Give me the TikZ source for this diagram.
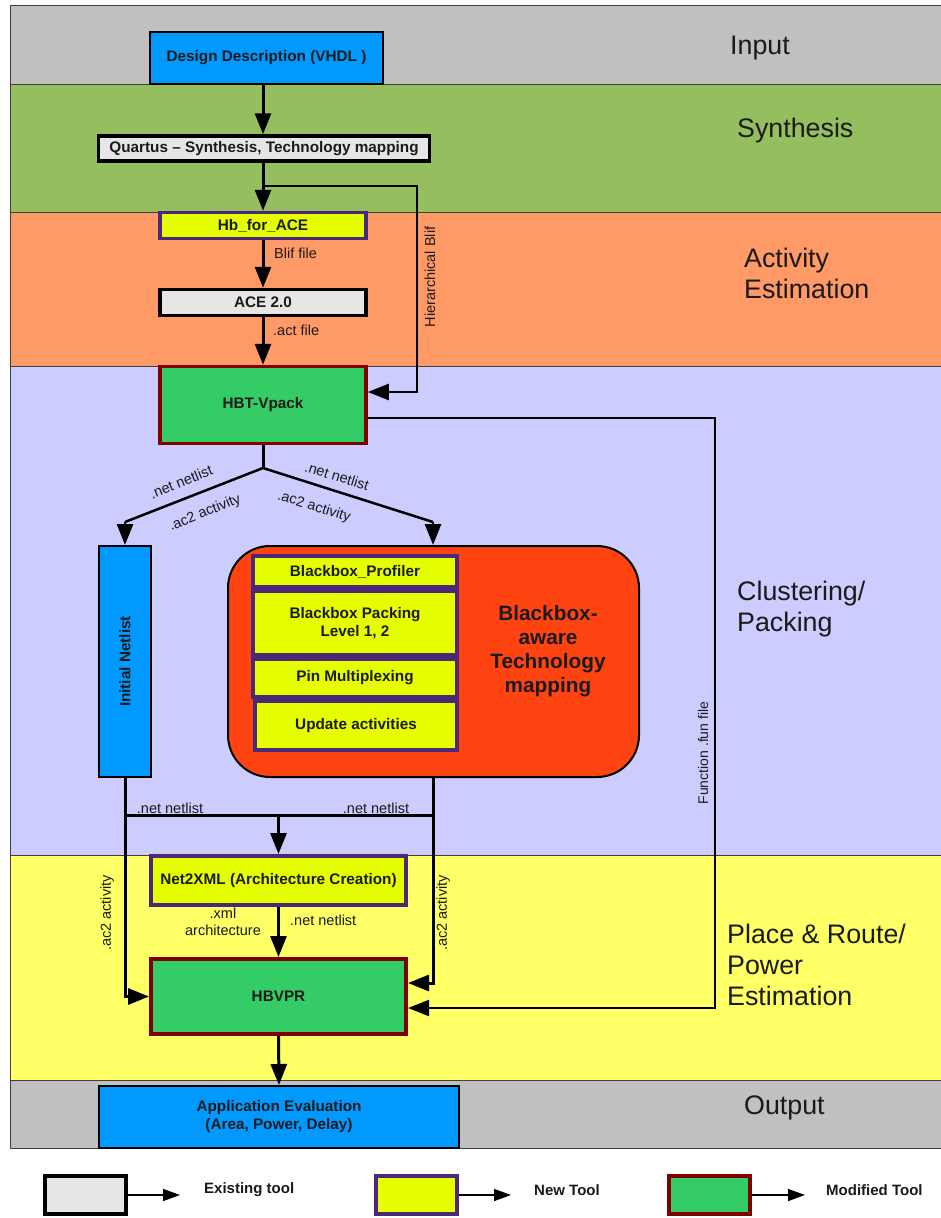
\documentclass[tikz,border=0pt]{standalone}
\usepackage{fontspec}
\setmainfont{Liberation Sans}
\usetikzlibrary{arrows.meta,calc}
\definecolor{bgray}{RGB}{192,192,192}
\definecolor{bgreen}{RGB}{149,191,95}
\definecolor{borange}{RGB}{255,153,102}
\definecolor{blav}{RGB}{204,204,255}
\definecolor{byel}{RGB}{255,255,102}
\definecolor{cblue}{RGB}{0,153,255}
\definecolor{lgray}{RGB}{230,230,230}
\definecolor{nyellow}{RGB}{230,255,0}
\definecolor{npurple}{RGB}{75,40,120}
\definecolor{mgreen}{RGB}{51,204,102}
\definecolor{mred}{RGB}{128,0,0}
\definecolor{bbred}{RGB}{255,68,17}
\definecolor{txt}{RGB}{26,26,26}
\tikzset{
  bandline/.style={draw=black!75, line width=0.9pt},
  tool/.style={align=center, font=\fontsize{15.3}{18}\selectfont\bfseries, text=txt, inner sep=0pt, anchor=center},
  exist/.style={tool, fill=lgray, draw=black, line width=3.5pt},
  newt/.style={tool, fill=nyellow, draw=npurple, line width=3.5pt},
  modt/.style={tool, fill=mgreen, draw=mred, line width=3.5pt},
  bluebox/.style={tool, fill=cblue, draw=black, line width=1.6pt},
  arr/.style={line width=3pt, -{Triangle[length=21pt,width=16pt]}},
  arrthin/.style={line width=2pt, -{Triangle[length=21pt,width=16pt]}},
  plain/.style={line width=3pt},
  diag/.style={line width=2.5pt},
  lab/.style={font=\fontsize{14.5}{16}\selectfont, text=txt, inner sep=0pt, align=center},
  stage/.style={font=\fontsize{26.8}{31}\selectfont, text=txt, align=left, anchor=west, inner sep=0pt},
  legtxt/.style={font=\fontsize{15}{17}\selectfont\bfseries, text=txt, anchor=west, inner sep=0pt},
  legarr/.style={line width=1.5pt, -{Triangle[length=17pt,width=12pt]}}
}
\begin{document}
\begin{tikzpicture}[x=1pt,y=-1pt]
\useasboundingbox (0,0) rectangle (940,1218);
\fill[white] (0,0) rectangle (940,1218);
% bands
\fill[bgray] (10,5) rectangle (941,84);
\fill[bgreen] (10,84) rectangle (941,212);
\fill[borange] (10,212) rectangle (941,366);
\fill[blav] (10,366) rectangle (941,855);
\fill[byel] (10,855) rectangle (941,1080);
\fill[bgray] (10,1080) rectangle (941,1148);
\draw[bandline] (10,5) rectangle (941,84);
\draw[bandline] (10,84) rectangle (941,212);
\draw[bandline] (10,212) rectangle (941,366);
\draw[bandline] (10,366) rectangle (941,855);
\draw[bandline] (10,855) rectangle (941,1080);
\draw[bandline] (10,1080) rectangle (941,1148);

% stage labels
\node[stage] (sIn) at (730,48) {Input};
\node[stage] (sSyn) at (737,131) {Synthesis};
\node[stage] (sAct) at (744,273) {Activity\\Estimation};
\node[stage] (sClu) at (737,609) {Clustering/\\Packing};
\node[stage] (sPR) at (727,965) {Place \& Route/\\Power\\Estimation};
\node[stage] (sOut) at (744,1108) {Output};

% tools
\node[bluebox, minimum width=233pt, minimum height=52pt] (dd) at (266.5,58) {Design Description (VHDL )};
\node[exist, minimum width=331pt, minimum height=25pt] (qu) at (264,148.5) {Quartus -- Synthesis, Technology mapping};
\node[newt, minimum width=206pt, minimum height=26pt] (hb) at (263,225.5) {Hb\_for\_ACE};
\node[exist, minimum width=206pt, minimum height=26pt] (ace) at (263,302.5) {ACE 2.0};
\node[modt, minimum width=206pt, minimum height=77pt] (hbt) at (263,405) {HBT-Vpack};

\node[bluebox, line width=2pt, minimum width=52pt, minimum height=231pt] (inl) at (125,661.5) {};
\node[tool, rotate=90] (inltxt) at (inl.center) {Initial Netlist};

\node[draw=black, line width=2pt, fill=bbred, rounded corners=42pt, minimum width=411pt, minimum height=231pt, inner sep=0pt] (bb) at (433.5,661.5) {};
\node[newt, line width=4pt, minimum width=204pt, minimum height=31pt] (p1) at (355,571.5) {Blackbox\_Profiler};
\node[newt, line width=4pt, minimum width=204pt, minimum height=64pt] (p2) at (355,623) {Blackbox Packing\\Level 1, 2};
\node[newt, line width=4pt, minimum width=204pt, minimum height=38pt] (p3) at (355,678) {Pin Multiplexing};
\node[newt, line width=4pt, minimum width=202pt, minimum height=49pt] (p4) at (356,725.5) {Update activities};
\node[tool, font=\fontsize{20.8}{24}\selectfont\bfseries] (bbt) at (548,651) {Blackbox-\\aware\\Technology\\mapping};

\node[newt, line width=4pt, minimum width=255pt, minimum height=49pt] (n2x) at (278.5,880.5) {Net2XML (Architecture Creation)};
\node[modt, line width=4pt, minimum width=255pt, minimum height=75pt] (hbv) at (278.5,996.5) {HBVPR};
\node[bluebox, line width=2pt, minimum width=360pt, minimum height=62pt] (app) at (279,1117) {Application Evaluation\\(Area, Power, Delay)};

% connectors top
\draw[arr] (dd.south -| hb.north) -- (qu.north -| hb.north);
\draw[arr] (qu.south -| hb.north) -- (hb.north);
\coordinate (hj) at (263,186);
\coordinate (hr) at (417,392);
\draw[arrthin] (hj) -| (hr) -- (hr -| hbt.east);
\node[lab, rotate=90] (hblab) at (430,277) {Hierarchical Blif};
\draw[arr] (hb.south) -- (ace.north);
\node[lab, anchor=west] (blab) at (274,253) {Blif file};
\draw[arr] (ace.south) -- (hbt.north);
\node[lab, anchor=west] (alab) at (273,330) {.act file};

% split from HBT-Vpack
\coordinate (jn) at (263,468);
\coordinate (dl) at (125,522);
\coordinate (dr) at (433,522);
\draw[plain] (hbt.south) -- (jn);
\draw[diag] (jn) -- (dl);
\draw[diag] (jn) -- (dr);
\draw[arr, line width=2.5pt] (dl) -- (inl.north);
\draw[arr, line width=2.5pt] (dr) -- (dr |- bb.north);
\node[lab, rotate=22] (l1) at (181,482) {.net netlist};
\node[lab, rotate=22] (l2) at (205,513) {.ac2 activity};
\node[lab, rotate=-17.5] (l3) at (337,476) {.net netlist};
\node[lab, rotate=-17.5] (l4) at (314,507) {.ac2 activity};

% function line
\coordinate (f1) at (715,418);
\coordinate (f2) at (715,1008);
\draw[arrthin] (f1 -| hbt.east) -- (f1) -- (f2) -- (f2 -| hbv.east);
\node[lab, rotate=90, font=\fontsize{14}{15}\selectfont] (flab) at (703,753) {Function .fun file};

% lower connectors
\coordinate (hl) at (125,815);
\coordinate (hr2) at (433,815);
\draw[arr] (inl.south) |- (hbv.west);
\draw[plain] (hl) -- (hr2);
\draw[arr] (n2x.north |- hl) -- (n2x.north);
\coordinate (rb) at (433,983);
\draw[arr] (dr |- bb.south) -- (rb) -- (rb -| hbv.east);
\node[lab] (l5) at (170,808) {.net netlist};
\node[lab] (l6) at (376,808) {.net netlist};
\node[lab, rotate=90] (l7) at (107,913) {.ac2 activity};
\node[lab, rotate=90] (l8) at (443,913) {.ac2 activity};
\draw[arr] (n2x.south) -- (hbv.north);
\node[lab, font=\fontsize{14.5}{17}\selectfont] (l9) at (223,922) {.xml\\architecture};
\node[lab, anchor=west] (l10) at (290,920) {.net netlist};
\draw[arr] (hbv.south) -- (app.north);

% legend
\node[exist, line width=4pt, minimum width=81pt, minimum height=38pt] (lg1) at (85,1195) {};
\coordinate (la1) at (180,1195);
\draw[legarr] (lg1.east) -- (la1);
\node[legtxt] (lt1) at (204,1190) {Existing tool};
\node[newt, line width=4pt, minimum width=81pt, minimum height=38pt] (lg2) at (416,1195) {};
\coordinate (la2) at (511,1195);
\draw[legarr] (lg2.east) -- (la2);
\node[legtxt] (lt2) at (534,1190) {New Tool};
\node[modt, line width=4pt, minimum width=81pt, minimum height=38pt] (lg3) at (709,1195) {};
\coordinate (la3) at (805,1195);
\draw[legarr] (lg3.east) -- (la3);
\node[legtxt] (lt3) at (826,1190) {Modified Tool};
\end{tikzpicture}
\end{document}
